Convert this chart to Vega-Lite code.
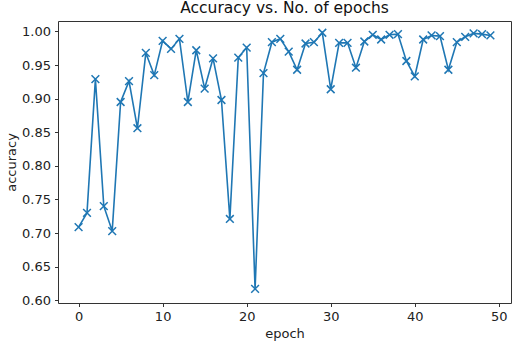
{
  "$schema": "https://vega.github.io/schema/vega-lite/v6.json",
  "width": 453,
  "height": 282,
  "autosize": {"type": "none"},
  "padding": {"left": 58, "top": 21, "right": 2, "bottom": 42},
  "background": "white",
  "title": {"text": "Accuracy vs. No. of epochs", "font": "DejaVu Sans", "fontSize": 15.5, "fontWeight": "normal", "color": "#111", "offset": 5},
  "config": {
    "view": {"stroke": "#333", "strokeWidth": 1},
    "axis": {"domain": false, "grid": false, "ticks": true, "tickSize": 3.5, "tickColor": "#333", "labelFont": "DejaVu Sans", "labelFontSize": 13, "labelColor": "#222", "titleFont": "DejaVu Sans", "titleFontSize": 13, "titleFontWeight": "normal", "titleColor": "#222", "labelPadding": 4}
  },
  "data": {"values": [
    {"epoch": 0, "accuracy": 0.709}, {"epoch": 1, "accuracy": 0.730}, {"epoch": 2, "accuracy": 0.929},
    {"epoch": 3, "accuracy": 0.740}, {"epoch": 4, "accuracy": 0.703}, {"epoch": 5, "accuracy": 0.895},
    {"epoch": 6, "accuracy": 0.926}, {"epoch": 7, "accuracy": 0.856}, {"epoch": 8, "accuracy": 0.968},
    {"epoch": 9, "accuracy": 0.935}, {"epoch": 10, "accuracy": 0.986}, {"epoch": 11, "accuracy": 0.974},
    {"epoch": 12, "accuracy": 0.989}, {"epoch": 13, "accuracy": 0.895}, {"epoch": 14, "accuracy": 0.972},
    {"epoch": 15, "accuracy": 0.915}, {"epoch": 16, "accuracy": 0.960}, {"epoch": 17, "accuracy": 0.898},
    {"epoch": 18, "accuracy": 0.721}, {"epoch": 19, "accuracy": 0.961}, {"epoch": 20, "accuracy": 0.976},
    {"epoch": 21, "accuracy": 0.617}, {"epoch": 22, "accuracy": 0.938}, {"epoch": 23, "accuracy": 0.984},
    {"epoch": 24, "accuracy": 0.989}, {"epoch": 25, "accuracy": 0.970}, {"epoch": 26, "accuracy": 0.943},
    {"epoch": 27, "accuracy": 0.982}, {"epoch": 28, "accuracy": 0.984}, {"epoch": 29, "accuracy": 0.998},
    {"epoch": 30, "accuracy": 0.914}, {"epoch": 31, "accuracy": 0.983}, {"epoch": 32, "accuracy": 0.983},
    {"epoch": 33, "accuracy": 0.946}, {"epoch": 34, "accuracy": 0.985}, {"epoch": 35, "accuracy": 0.995},
    {"epoch": 36, "accuracy": 0.988}, {"epoch": 37, "accuracy": 0.995}, {"epoch": 38, "accuracy": 0.996},
    {"epoch": 39, "accuracy": 0.956}, {"epoch": 40, "accuracy": 0.933}, {"epoch": 41, "accuracy": 0.988},
    {"epoch": 42, "accuracy": 0.994}, {"epoch": 43, "accuracy": 0.993}, {"epoch": 44, "accuracy": 0.943},
    {"epoch": 45, "accuracy": 0.984}, {"epoch": 46, "accuracy": 0.992}, {"epoch": 47, "accuracy": 0.997},
    {"epoch": 48, "accuracy": 0.996}, {"epoch": 49, "accuracy": 0.994}
  ]},
  "encoding": {
    "x": {"field": "epoch", "type": "quantitative", "title": "epoch",
      "scale": {"domain": [-2.45, 51.45], "nice": false, "zero": false},
      "axis": {"values": [0, 10, 20, 30, 40, 50], "titlePadding": 4}},
    "y": {"field": "accuracy", "type": "quantitative", "title": "accuracy",
      "scale": {"domain": [0.596, 1.0155], "nice": false, "zero": false},
      "axis": {"values": [0.6, 0.65, 0.7, 0.75, 0.8, 0.85, 0.9, 0.95, 1.0], "format": ".2f", "titlePadding": 3}}
  },
  "layer": [
    {"mark": {"type": "line", "color": "#1f77b4", "strokeWidth": 1.6}},
    {"mark": {"type": "point", "shape": "M-1,-1L1,1M1,-1L-1,1", "filled": false, "stroke": "#1f77b4", "strokeWidth": 1.5, "size": 60, "opacity": 1}}
  ]
}
